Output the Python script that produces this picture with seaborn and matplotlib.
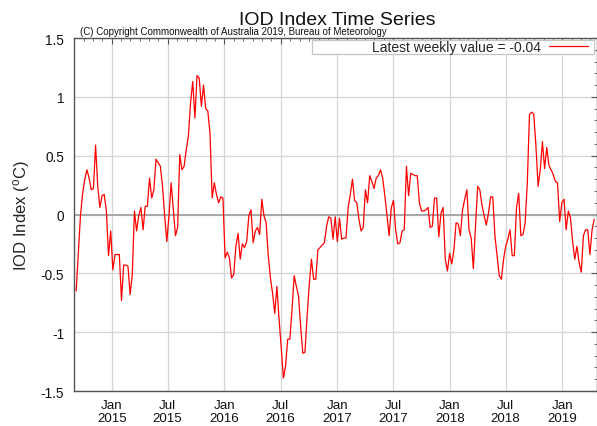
import pandas as pd
import seaborn as sns
from matplotlib import pyplot as plt
import matplotlib.dates as mdates
from matplotlib.ticker import MultipleLocator
from matplotlib.patches import Rectangle

# Weekly IOD index values (first week ending 2014-09-07)
first_week = "2014-09-07"
iod = [
    -0.65, -0.33, -0.01, 0.18, 0.30, 0.38, 0.31, 0.21, 0.22, 0.59,
    0.24, 0.06, 0.16, 0.17, 0.03, -0.35, -0.14, -0.47, -0.34, -0.34,
    -0.34, -0.73, -0.43, -0.43, -0.44, -0.68, -0.51, 0.03, -0.14, -0.01,
    0.06, -0.13, 0.07, 0.07, 0.31, 0.14, 0.21, 0.47, 0.44, 0.41,
    0.24, -0.01, -0.23, -0.01, 0.27, 0.04, -0.18, -0.11, 0.51, 0.38,
    0.41, 0.55, 0.67, 0.95, 1.13, 0.82, 1.18, 1.16, 0.92, 1.10,
    0.90, 0.88, 0.69, 0.14, 0.27, 0.17, 0.10, 0.15, 0.14, -0.37,
    -0.32, -0.37, -0.54, -0.51, -0.27, -0.16, -0.38, -0.25, -0.28, -0.23,
    -0.01, 0.04, -0.24, -0.14, -0.11, -0.17, 0.13, -0.01, -0.07, -0.35,
    -0.54, -0.67, -0.84, -0.61, -0.89, -1.13, -1.39, -1.29, -1.06, -1.06,
    -0.81, -0.52, -0.61, -0.69, -0.95, -1.18, -1.17, -0.86, -0.59, -0.38,
    -0.55, -0.55, -0.30, -0.28, -0.26, -0.24, -0.10, -0.02, -0.03, -0.21,
    -0.02, -0.23, -0.03, -0.21, -0.20, -0.20, 0.06, 0.17, 0.30, 0.12,
    0.10, -0.04, -0.14, -0.11, 0.21, 0.10, 0.33, 0.28, 0.22, 0.31,
    0.33, 0.38, 0.31, 0.16, -0.01, -0.18, 0.06, 0.12, -0.13, -0.25,
    -0.24, -0.14, -0.13, 0.41, 0.16, 0.35, 0.34, 0.33, 0.33, 0.10,
    0.03, 0.03, 0.04, 0.06, -0.11, -0.10, 0.14, 0.14, -0.19, 0.01,
    0.06, -0.38, -0.48, -0.33, -0.42, -0.30, -0.07, -0.08, -0.18, 0.04,
    0.13, 0.21, -0.13, -0.20, -0.46, -0.10, 0.24, 0.21, 0.08, -0.01,
    -0.09, 0.01, 0.15, 0.15, -0.18, -0.35, -0.52, -0.55, -0.38, -0.27,
    -0.21, -0.13, -0.35, -0.35, 0.06, 0.18, -0.18, -0.17, -0.07, 0.27,
    0.85, 0.87, 0.85, 0.58, 0.24, 0.38, 0.62, 0.39, 0.57, 0.42,
    0.38, 0.34, 0.28, 0.27, -0.06, 0.10, 0.13, -0.13, 0.03, -0.03,
    -0.23, -0.38, -0.27, -0.41, -0.49, -0.18, -0.13, -0.13, -0.34, -0.13,
    -0.04,
]
latest_label = "Latest weekly value = -0.04"
title = "IOD Index Time Series"
copyright_note = "(C) Copyright Commonwealth of Australia 2019, Bureau of Meteorology"
x_range = ("2014-08-31", "2019-04-23")

sns.set_style("white")
plt.rcParams["font.family"] = ["Liberation Sans", "DejaVu Sans"]
plt.rcParams["mathtext.fontset"] = "custom"
plt.rcParams["mathtext.rm"] = "Liberation Sans"
plt.rcParams["mathtext.it"] = "Liberation Sans"

df = pd.DataFrame({
    "week": pd.date_range(first_week, periods=len(iod), freq="7D"),
    "iod": iod,
})

W, H = 597, 427
fig = plt.figure(figsize=(W / 100, H / 100), dpi=100)
ax = fig.add_axes([74 / W, 1 - 392 / H, 523 / W, 353 / H])

sns.lineplot(data=df, x="week", y="iod", color="red", lw=0.9, ax=ax,
             label=latest_label, zorder=3)

ax.set_xlim(pd.Timestamp(x_range[0]), pd.Timestamp(x_range[1]))
ax.set_ylim(-1.5, 1.5)

ax.xaxis.set_major_locator(mdates.MonthLocator(bymonth=[1, 7]))
ax.xaxis.set_minor_locator(mdates.MonthLocator())
ax.xaxis.set_major_formatter(mdates.DateFormatter("%b\n%Y"))
ax.yaxis.set_major_locator(MultipleLocator(0.5))
ax.yaxis.set_minor_locator(MultipleLocator(0.1))
ax.set_yticks([-1.5, -1, -0.5, 0, 0.5, 1, 1.5])
ax.set_yticklabels(["-1.5", "-1", "-0.5", "0", "0.5", "1", "1.5"])

ax.grid(which="major", color="#d4d4d4", lw=0.9)
ax.axhline(0, color="#a8a8a8", lw=1.4, zorder=2)

ax.tick_params(which="both", direction="in", top=True, right=True,
               color="#555555", labelcolor="#111111")
ax.tick_params(which="major", length=4, width=0.8)
ax.tick_params(which="minor", length=2.5, width=0.6)
ax.tick_params(axis="x", which="major", labelsize=9.6, pad=5.5)
ax.tick_params(axis="y", which="major", labelsize=9.8, pad=7)
for t in ax.get_xticklabels():
    t.set_linespacing(1.12)

for side in ax.spines.values():
    side.set_color("#555555")
    side.set_linewidth(1.0)

ax.set_xlabel("")
ax.set_ylabel(r"IOD Index ($^{\rm o}$C)", fontsize=12, labelpad=6)

fig.text(337 / W, 1 - 25 / H, title, ha="center", va="baseline",
         fontsize=14, color="#111111")
fig.text(80 / W, 1 - 35 / H, copyright_note, ha="left", va="baseline",
         fontsize=7, color="#111111")

# legend box drawn across the top right, text right-aligned before the line
ax.add_patch(Rectangle((312 / W, 1 - 55 / H), (594 - 312) / W, 14 / H,
                       transform=fig.transFigure, facecolor="white",
                       edgecolor="#c4c4c4", lw=0.9, zorder=4, clip_on=False))
leg = ax.legend(loc="center right", frameon=False, markerfirst=False,
                bbox_to_anchor=((588 - 74) / 523, (392 - 48) / 353),
                borderpad=0, borderaxespad=0, handlelength=2.8,
                handletextpad=0.6, fontsize=10)
leg.set_zorder(5)

fig.savefig("out.png", dpi=100)
